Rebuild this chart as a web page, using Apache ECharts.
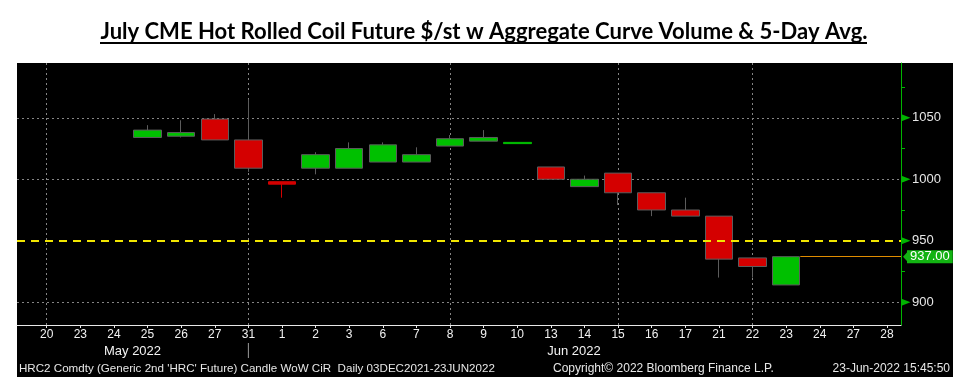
<!DOCTYPE html>
<html><head><meta charset="utf-8">
<script src="https://cdn.jsdelivr.net/npm/echarts@6/dist/echarts.min.js"></script>
<style>html,body{margin:0;padding:0;background:#fff}#c{width:967px;height:385px}</style>
</head><body><div id="c"></div>
<script>
// ---- data ----
const categories = ['2022-05-20','2022-05-23','2022-05-24','2022-05-25','2022-05-26','2022-05-27','2022-05-31','2022-06-01','2022-06-02','2022-06-03','2022-06-06','2022-06-07','2022-06-08','2022-06-09','2022-06-10','2022-06-13','2022-06-14','2022-06-15','2022-06-16','2022-06-17','2022-06-21','2022-06-22','2022-06-23','2022-06-24','2022-06-27','2022-06-28'];
const tickLabels = ['20','23','24','25','26','27','31','1','2','3','6','7','8','9','10','13','14','15','16','17','21','22','23','24','27','28'];
const candleDates = ['2022-05-25','2022-05-26','2022-05-27','2022-05-31','2022-06-01','2022-06-02','2022-06-03','2022-06-06','2022-06-07','2022-06-08','2022-06-09','2022-06-10','2022-06-13','2022-06-14','2022-06-15','2022-06-16','2022-06-17','2022-06-21','2022-06-22','2022-06-23'];
const openValues  = [1034,1035,1049,1032, 998,1009,1009,1014,1014,1027,1031,1029,1010, 994,1005, 989, 975, 970, 936, 914];
const closeValues = [1040,1038,1032,1009, 996,1020,1025,1028,1020,1033,1034,1030,1000,1000, 989, 975, 970, 935, 929, 937];
const lowValues   = [1034,1034,1032,1006, 985,1004,1009,1014,1014,1027,1031,1029,1000, 994, 979, 970, 970, 920, 920, 914];
const highValues  = [1044,1048,1053,1065, 998,1022,1030,1030,1026,1036,1040,1030,1010,1003,1005, 989, 985, 970, 936, 937];
const lastPrice = 937;
const thresholdLevel = 950;
const yLabelValues = [900, 950, 1000, 1050];
const yTickValues = [900, 925, 950, 975, 1000, 1025, 1050, 1075];
const yGridValues = [900, 1000, 1050];
const verticalGridDates = ['2022-05-20','2022-05-31','2022-06-08','2022-06-15','2022-06-22'];
const monthLabels = ['May 2022', 'Jun 2022'];
const titleText = 'July CME Hot Rolled Coil Future $/st w Aggregate Curve Volume & 5-Day Avg.';
const footerLeft = "HRC2 Comdty (Generic 2nd 'HRC' Future) Candle WoW CiR  Daily 03DEC2021-23JUN2022";
const footerMid = 'Copyright\u00A9 2022 Bloomberg Finance L.P.';
const footerRight = '23-Jun-2022 15:45:50';

// ---- build ----
const xMin = -0.884, xMax = 25.417;
const GREEN = '#00c000', RED = '#d40000', AXG = '#00b400', EDGE = '#5c5c5c';
const candleData = candleDates.map((d, i) => {
  const item = {value: [categories.indexOf(d), openValues[i], closeValues[i], lowValues[i], highValues[i]]};
  if (Math.abs(closeValues[i] - openValues[i]) <= 2) {
    const c = closeValues[i] >= openValues[i] ? GREEN : RED;
    item.itemStyle = {borderColor: c, borderColor0: c, borderWidth: 1};
  }
  return item;
});
const lastIdx = categories.indexOf(candleDates[candleDates.length - 1]);

const chart = echarts.init(document.getElementById('c'), null, {renderer: 'canvas'});

const ctx = document.createElement('canvas').getContext('2d');
ctx.font = 'bold 22px Lato';
const titleW = ctx.measureText(titleText).width;
const titleScale = 767 / titleW;

const labelFont = 'Liberation Sans';
const txt = (x, y, text, size, align, color) => ({type: 'text', x, y, silent: true,
  style: {text, fontSize: size, fontFamily: labelFont, fill: color, textAlign: align, textVerticalAlign: 'middle'}});

chart.setOption({
  animation: false,
  backgroundColor: '#fff',
  grid: {left: 17, right: 66, top: 63, bottom: 60, containLabel: false},
  xAxis: {
    type: 'value', min: xMin, max: xMax,
    splitLine: {show: false},
    axisLine: {show: true, onZero: false, lineStyle: {color: '#e8e8e8', width: 1}},
    axisTick: {show: true, length: 3, lineStyle: {color: '#e8e8e8'}, customValues: categories.map((c, i) => i)},
    axisLabel: {show: true, color: '#f2f2f2', fontSize: 12, fontFamily: labelFont, margin: 4,
      customValues: categories.map((c, i) => i),
      formatter: v => tickLabels[Math.round(v)]}
  },
  yAxis: {
    type: 'value', position: 'right', min: 881.4, max: 1094.6, scale: true,
    splitLine: {show: false},
    axisLine: {show: true, onZero: false, lineStyle: {color: AXG, width: 1}},
    axisTick: {show: true, length: 4, lineStyle: {color: AXG}, customValues: yTickValues},
    axisLabel: {show: true, color: '#e6e6e6', fontSize: 13, fontFamily: labelFont, margin: 11, customValues: yLabelValues,
      formatter: v => String(v)}
  },
  graphic: [
    {type: 'rect', z: -10, shape: {x: 17, y: 63, width: 936, height: 314}, style: {fill: '#000'}},
    {type: 'text', x: 484, y: 32, scaleX: titleScale, silent: true,
     style: {text: titleText, fontSize: 22, fontWeight: 'bold', fontFamily: 'Lato', fill: '#000', textAlign: 'center', textVerticalAlign: 'middle'}},
    {type: 'line', shape: {x1: 100, y1: 43, x2: 867, y2: 43}, style: {stroke: '#000', lineWidth: 2}},
    txt(132.5, 351, monthLabels[0], 13, 'center', '#f2f2f2'),
    txt(574, 351, monthLabels[1], 13, 'center', '#f2f2f2'),
    txt(19, 369, footerLeft, 11.6, 'left', '#e6e6e6'),
    txt(553, 369, footerMid, 12, 'left', '#e6e6e6'),
    txt(950, 369, footerRight, 12, 'right', '#e6e6e6')
  ],
  series: [
    {
      type: 'line', data: [], z: 1, silent: true,
      markLine: {
        z: 1, silent: true, symbol: 'none', label: {show: false},
        lineStyle: {color: '#858585', width: 1, type: [2, 3]},
        data: yGridValues.map(v => ({yAxis: v})).concat(verticalGridDates.map(d => ({xAxis: categories.indexOf(d)})))
      }
    },
    {
      type: 'candlestick', z: 3, barWidth: 28,
      data: candleData,
      itemStyle: {color: GREEN, color0: RED, borderColor: EDGE, borderColor0: EDGE, borderWidth: 1},
      markLine: {
        silent: true, symbol: 'none', z: 5,
        data: [
          {yAxis: thresholdLevel, lineStyle: {color: '#f2e600', width: 2, type: [8, 6]}, label: {show: false}},
          [{coord: [lastIdx + 0.42, lastPrice], lineStyle: {color: '#e08c00', width: 1, type: 'solid'},
            label: {show: true, position: 'end', formatter: lastPrice.toFixed(2), color: '#fff', fontSize: 13, fontFamily: labelFont,
                    backgroundColor: '#12b312', padding: [0, 3, 0, 3], distance: 6}},
           {coord: [xMax, lastPrice]}]
        ]
      },
      markPoint: {
        silent: true, label: {show: false},
        data: yLabelValues.map(v => ({coord: [xMax, v], symbol: 'triangle', symbolSize: [7, 9], symbolRotate: -90, symbolOffset: [5, 0], itemStyle: {color: AXG}}))
          .concat([{coord: [xMax, lastPrice], symbol: 'triangle', symbolSize: [13, 6], symbolRotate: 90, symbolOffset: [5, 0], itemStyle: {color: '#12b312'}}])
      }
    }
  ]
});

// month divider below the May 31 grid line
const px = chart.convertToPixel({xAxisIndex: 0}, categories.indexOf('2022-05-31'));
chart.setOption({graphic: [
  {}, {}, {}, {}, {}, {}, {}, {},
  {type: 'line', shape: {x1: px, y1: 343, x2: px, y2: 358}, style: {stroke: '#9a9a9a', lineWidth: 1}}
]});
</script>
</body></html>
